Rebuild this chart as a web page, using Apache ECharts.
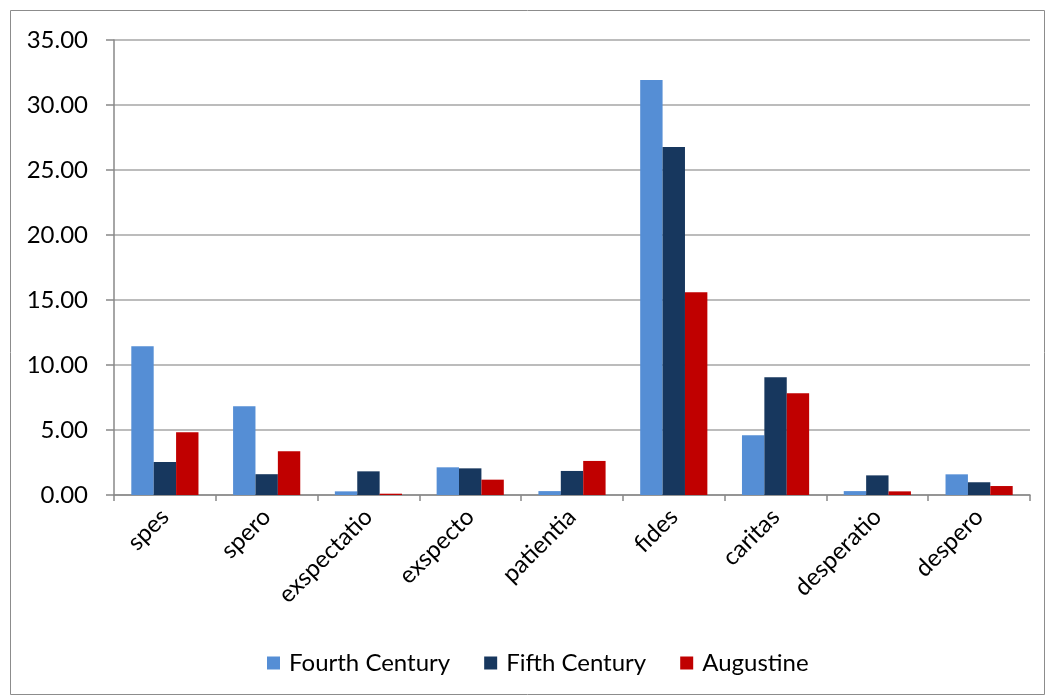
<!DOCTYPE html>
<html>
<head>
<meta charset="utf-8">
<script src="https://cdn.jsdelivr.net/npm/echarts@6/dist/echarts.min.js"></script>
<style>
  html, body { margin: 0; padding: 0; background: #fff; }
  #chart { width: 1048px; height: 697px; }
</style>
</head>
<body>
<div id="chart"></div>
<script>
// Word frequencies by corpus
const categories = ['spes', 'spero', 'exspectatio', 'exspecto', 'patientia', 'fides', 'caritas', 'desperatio', 'despero'];
const fourthCentury = [11.45, 6.82, 0.28, 2.13, 0.30, 31.92, 4.59, 0.30, 1.59];
const fifthCentury  = [2.54, 1.60, 1.82, 2.05, 1.85, 26.77, 9.05, 1.51, 0.98];
const augustine     = [4.82, 3.36, 0.10, 1.18, 2.62, 15.60, 7.82, 0.28, 0.69];
const seriesNames = ['Fourth Century', 'Fifth Century', 'Augustine'];
const seriesColors = ['#558ED5', '#17375E', '#C00000'];

const FONT = 'Lato, "Open Sans", sans-serif';
const chart = echarts.init(document.getElementById('chart'), null, { renderer: 'canvas' });

const seriesData = [fourthCentury, fifthCentury, augustine];

chart.setOption({
  animation: false,
  backgroundColor: '#fff',
  graphic: [{
    type: 'rect',
    shape: { x: 10.5, y: 10.5, width: 1034, height: 684 },
    style: { fill: 'none', stroke: '#8c8c8c', lineWidth: 1 },
    silent: true
  }],
  grid: { left: 114, right: 18, top: 40, bottom: 202, containLabel: false },
  legend: {
    bottom: 17,
    left: 262,
    itemWidth: 13,
    itemHeight: 13,
    itemGap: 34,
    icon: 'rect',
    textStyle: { fontFamily: FONT, fontSize: 24, color: '#000', padding: [0, 0, 0, 4] },
    data: seriesNames
  },
  xAxis: {
    type: 'category',
    data: categories,
    axisLine: { lineStyle: { color: '#888', width: 1.5 } },
    axisTick: { show: true, length: 6, alignWithLabel: false, lineStyle: { color: '#888', width: 1.5 } },
    axisLabel: { rotate: 45, fontFamily: FONT, fontSize: 24, color: '#000', margin: 18, interval: 0 },
    splitLine: { show: false }
  },
  yAxis: {
    type: 'value',
    min: 0,
    max: 35,
    interval: 5,
    axisLine: { show: true, lineStyle: { color: '#888', width: 1.5 } },
    axisTick: { show: true, length: 8, lineStyle: { color: '#888', width: 1.5 } },
    axisLabel: {
      fontFamily: FONT, fontSize: 24, color: '#000', margin: 26,
      formatter: v => v.toFixed(2)
    },
    splitLine: { show: true, lineStyle: { color: '#a6a6a6', width: 1.5 } }
  },
  series: seriesNames.map((name, i) => ({
    name,
    type: 'bar',
    data: seriesData[i],
    barGap: '0%',
    barCategoryGap: '34%',
    itemStyle: { color: seriesColors[i] }
  }))
});
</script>
</body>
</html>
